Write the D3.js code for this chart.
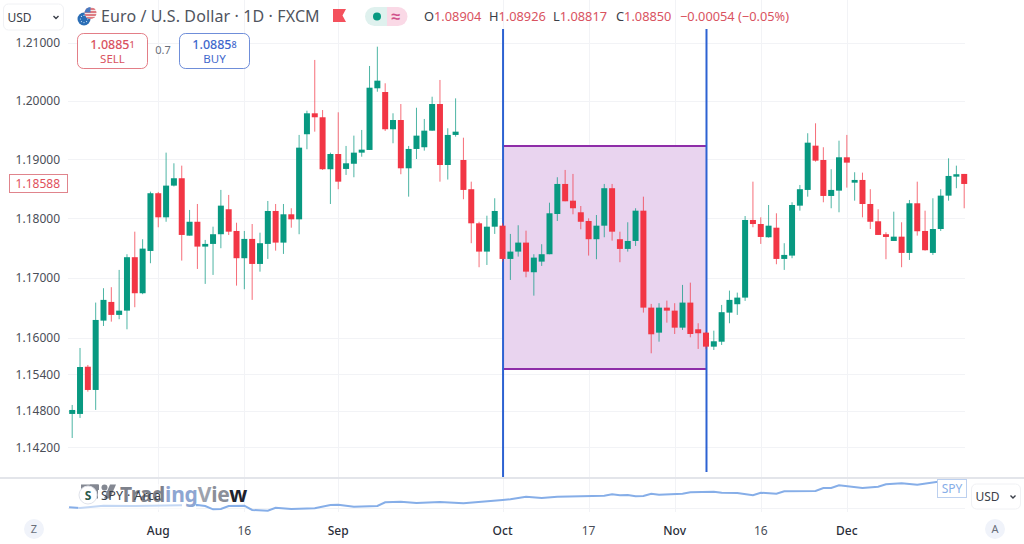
<!DOCTYPE html>
<html><head><meta charset="utf-8">
<script src="https://cdn.jsdelivr.net/npm/d3@7/dist/d3.min.js"></script>
<style>html,body{margin:0;padding:0;background:#fff}svg{display:block;font-family:"Noto Sans",sans-serif}</style>
</head><body><svg id="c" width="1024" height="544"></svg>
<script>
const opens=[1.14746,1.14746,1.15523,1.15140,1.16287,1.16598,1.16382,1.16453,1.17346,1.16743,
1.17451,1.18424,1.18017,1.18553,1.18678,1.17708,1.17942,1.17524,1.17569,1.17732,
1.18153,1.17787,1.17329,1.17653,1.17233,1.17569,1.18124,1.17591,1.18068,1.17983,
1.19427,1.19785,1.19717,1.18831,1.19090,1.18836,1.18924,1.19113,1.19159,1.20214,
1.20150,1.19512,1.19670,1.18847,1.19176,1.19205,1.19488,1.19944,1.18903,1.19415,
1.18988,1.18492,1.17916,1.17440,1.17859,1.17876,1.17317,1.17440,1.17591,1.17094,
1.17272,1.17396,1.18073,1.18581,1.18298,1.18102,1.17955,1.17648,1.17876,1.18509,
1.17648,1.17485,1.17619,1.18129,1.16503,1.16087,1.16503,1.16453,1.16170,1.16587,
1.16143,1.16087,1.15855,1.15937,1.16420,1.16560,1.16670,1.17972,1.17904,1.17681,
1.17842,1.17317,1.17373,1.18214,1.18480,1.19232,1.18988,1.18378,1.18468,1.19034,
1.18603,1.18649,1.18242,1.17950,1.17732,1.17619,1.17691,1.17418,1.18254,1.17787,
1.17418,1.17820,1.18383,1.18705,1.18751];
const closes=[1.14811,1.15518,1.15140,1.16298,1.16632,1.16382,1.16453,1.17346,1.16743,1.17490,
1.18424,1.18017,1.18553,1.18678,1.17720,1.17942,1.17524,1.17569,1.17732,1.18214,
1.17775,1.17329,1.17653,1.17233,1.17581,1.18124,1.17591,1.18068,1.17983,1.19198,
1.19785,1.19717,1.18831,1.19090,1.18620,1.18932,1.19113,1.19164,1.20224,1.20345,
1.19512,1.19670,1.18847,1.19176,1.19403,1.19488,1.19944,1.18903,1.19415,1.19471,
1.18480,1.17916,1.17440,1.17859,1.18124,1.17317,1.17440,1.17591,1.17104,1.17339,
1.17396,1.18085,1.18581,1.18288,1.18170,1.17942,1.17648,1.17876,1.18509,1.17775,
1.17485,1.17619,1.18129,1.16503,1.16060,1.16503,1.16453,1.16170,1.16587,1.16065,
1.16077,1.15855,1.15944,1.16427,1.16632,1.16670,1.17972,1.17904,1.17686,1.17876,
1.17317,1.17384,1.18225,1.18492,1.19283,1.18977,1.18378,1.18480,1.19034,1.18943,
1.18649,1.18242,1.17942,1.17720,1.17686,1.17691,1.17418,1.18254,1.17782,1.17463,
1.17820,1.18383,1.18717,1.18746,1.18581];
const highs=[1.14893,1.15833,1.15552,1.16587,1.16827,1.16844,1.17133,1.17396,1.17775,1.17648,
1.18451,1.18446,1.19113,1.18932,1.18892,1.18141,1.18242,1.17636,1.17859,1.18480,
1.18395,1.17926,1.17787,1.17904,1.17758,1.18293,1.18242,1.18242,1.18170,1.19415,
1.19829,1.20702,1.19841,1.19113,1.19802,1.19227,1.19403,1.19500,1.20598,1.20931,
1.20300,1.19785,1.19944,1.19227,1.19880,1.19688,1.20069,1.20357,1.19529,1.20041,
1.19368,1.18620,1.17942,1.18044,1.18339,1.17916,1.17737,1.17883,1.17792,1.17396,
1.17564,1.18264,1.18695,1.18819,1.18751,1.18208,1.18000,1.18056,1.18581,1.18581,
1.17775,1.17933,1.18170,1.18366,1.16565,1.16577,1.16620,1.16577,1.16882,1.16920,
1.16243,1.16098,1.16120,1.16548,1.16787,1.16753,1.18039,1.18620,1.18017,1.18225,
1.18085,1.17581,1.18271,1.18564,1.19444,1.19614,1.19205,1.18831,1.19317,1.19415,
1.18780,1.18773,1.18492,1.18153,1.17765,1.18112,1.17933,1.18310,1.18620,1.18129,
1.18339,1.18492,1.19017,1.18892,1.18751];
const lows=[1.14352,1.14680,1.15112,1.14812,1.16198,1.16270,1.16310,1.16143,1.16510,1.16727,
1.17245,1.17849,1.17942,1.18539,1.17289,1.17708,1.17149,1.16899,1.17049,1.17497,
1.17720,1.16870,1.16810,1.16632,1.17104,1.17317,1.17456,1.17401,1.17842,1.17732,
1.19171,1.19471,1.18819,1.18242,1.18492,1.18734,1.18695,1.19044,1.19159,1.20155,
1.19483,1.19273,1.18746,1.18366,1.19005,1.19147,1.19488,1.18620,1.18656,1.19386,
1.18322,1.17581,1.17178,1.17216,1.17737,1.17272,1.16965,1.17356,1.17010,1.16703,
1.17200,1.17396,1.17955,1.18288,1.18068,1.17815,1.17373,1.17312,1.17681,1.17624,
1.17262,1.17440,1.17535,1.16420,1.15745,1.15937,1.16253,1.16065,1.16132,1.16010,
1.15817,1.15817,1.15800,1.15883,1.16243,1.16382,1.16615,1.17849,1.17569,1.17675,
1.17228,1.17133,1.17329,1.18129,1.18366,1.18960,1.18271,1.18170,1.18102,1.18519,
1.18298,1.18017,1.17820,1.17720,1.17312,1.17619,1.17178,1.17300,1.17708,1.17456,
1.17384,1.17787,1.18298,1.18509,1.18170];

const priceTicks=[1.21,1.20,1.19,1.18,1.17,1.16,1.154,1.148,1.142];
const timeLabels=["Aug","16","Sep","Oct","17","Nov","16","Dec"];
const timeIndex=[11,22,34,55,66,77,88,99];
const timeStrong=[true,false,true,true,false,true,false,true];

const boxStart=55, boxEnd=81, boxTop=1.19227, boxBottom=1.15486;

const spyIdx=[-0.4,1,4,8,14,16,17,18,19,20,22,23,25,26,28,31,33,34,36,39,40,42,44,47,50,55,56,58,60,62,65,68,69,70,71,72,73,74,75,78,79,82,83,85,87,88,90,91,95,96,97,98,101,103,104,106,108,111,114];
const spyVal=[431.2,430,433.8,433.3,434.5,435,433.3,427.8,428.3,433.3,433.8,426.7,425.5,430.5,428.3,429.5,435,435.5,432.2,433.3,439.5,440.5,438.3,440,437.8,443.3,444.5,448.8,446.7,448.8,449.5,450.5,452.8,451.2,451.7,449.5,450,453.8,452.2,453.8,456.2,457.2,455.5,455,451.2,455.5,453.8,457.8,458.3,463.3,463.3,467.8,463.3,465.5,469.5,471.2,468.8,474.5,474.5];

const ohlcKeys=["O","H","L","C"];
const ohlcVals=["1.08904","1.08926","1.08817","1.08850"];
const ohlcChange="−0.00054 (−0.05%)";

const GREEN="#089981", RED="#f23645", TXT="#4a4e58";
const svg=d3.select("#c");
const x=d3.scaleLinear().domain([0,114]).range([72.2,964.2]);
const y=d3.scaleLog().domain([1.142,1.21]).range([447.3,42.7]);
const ySpy=d3.scaleLinear().domain([430,475]).range([508,481]);
const GRID="#f2f3f6";

// grid
const grid=svg.append("g");
grid.selectAll("line.h").data(priceTicks).join("line").attr("class","h").attr("x1",68).attr("x2",965)
 .attr("y1",d=>Math.round(y(d))+.5).attr("y2",d=>Math.round(y(d))+.5).attr("stroke",GRID);
grid.selectAll("line.v").data(timeIndex).join("line").attr("class","v").attr("y1",0).attr("y2",477)
 .attr("x1",d=>Math.round(x(d))+.5).attr("x2",d=>Math.round(x(d))+.5).attr("stroke",GRID);
grid.selectAll("line.w").data(timeIndex).join("line").attr("class","w").attr("y1",479).attr("y2",512)
 .attr("x1",d=>Math.round(x(d))+.5).attr("x2",d=>Math.round(x(d))+.5).attr("stroke",GRID);
grid.append("line").attr("x1",68).attr("x2",965).attr("y1",508.5).attr("y2",508.5).attr("stroke",GRID);

// box + lines
svg.append("rect").attr("x",x(boxStart)).attr("width",x(boxEnd)-x(boxStart)).attr("y",y(boxTop)).attr("height",y(boxBottom)-y(boxTop)).attr("fill","#e9d4ef");
[boxTop,boxBottom].forEach(v=>svg.append("line").attr("x1",x(boxStart)).attr("x2",x(boxEnd)).attr("y1",y(v)).attr("y2",y(v)).attr("stroke","#8e2da8").attr("stroke-width",2));
svg.append("line").attr("x1",x(boxStart)+.5).attr("x2",x(boxStart)+.5).attr("y1",29).attr("y2",477).attr("stroke","#2d62d2").attr("stroke-width",2);
svg.append("line").attr("x1",x(boxEnd)+.5).attr("x2",x(boxEnd)+.5).attr("y1",29).attr("y2",472).attr("stroke","#2d62d2").attr("stroke-width",2);

// candles
const idx=d3.range(opens.length);
const col=i=>closes[i]>=opens[i]?GREEN:RED;
const g=svg.append("g");
g.selectAll("line.wick").data(idx).join("line").attr("class","wick")
 .attr("x1",i=>x(i)).attr("x2",i=>x(i)).attr("y1",i=>y(highs[i])).attr("y2",i=>y(lows[i]))
 .attr("stroke",col).attr("stroke-opacity",.72).attr("stroke-width",1);
g.selectAll("rect.body").data(idx).join("rect").attr("class","body")
 .attr("x",i=>x(i)-3).attr("width",6)
 .attr("y",i=>y(Math.max(opens[i],closes[i])))
 .attr("height",i=>Math.max(1,Math.abs(y(opens[i])-y(closes[i]))))
 .attr("fill",col);

// price axis labels
svg.selectAll("text.p").data(priceTicks).join("text").attr("class","p").attr("x",60).attr("y",d=>y(d)+4.5)
 .attr("text-anchor","end").attr("font-size",12).attr("fill",TXT).text(d=>d.toFixed(5));
svg.append("rect").attr("x",9.5).attr("y",174.5).attr("width",58).attr("height",18).attr("fill","#fff").attr("stroke","#e0848c");
svg.append("text").attr("x",60).attr("y",188).attr("text-anchor","end").attr("font-size",12).attr("fill","#e0505c").text("1.18588");

// bottom pane
svg.append("line").attr("x1",0).attr("x2",1024).attr("y1",478).attr("y2",478).attr("stroke","#e3e5ea").attr("stroke-width",2);
const line=d3.line().x((d,i)=>x(spyIdx[i])).y(d=>ySpy(d));
svg.append("clipPath").attr("id","spyClip").append("rect").attr("x",60).attr("y",470).attr("width",878).attr("height",60);
svg.append("path").datum(spyVal).attr("d",line).attr("fill","none").attr("stroke","#86aee8").attr("stroke-width",2).attr("clip-path","url(#spyClip)");
svg.append("rect").attr("x",78).attr("y",484).attr("width",104).attr("height",26).attr("fill","#fff").attr("opacity",.5);
svg.append("rect").attr("x",182).attr("y",484).attr("width",14).attr("height",26).attr("fill","#fff");

// watermark + legend
const wm=svg.append("g").attr("fill","#6f7480").attr("opacity",.85);
wm.append("rect").attr("x",81).attr("y",484.5).attr("width",18).attr("height",5.5);
wm.append("rect").attr("x",90).attr("y",484.5).attr("width",8).attr("height",14);
wm.append("circle").attr("cx",104.5).attr("cy",487.5).attr("r",3);
wm.append("path").attr("d","M110,484.5h6l-6,14h-6z");
const wt=svg.append("text").attr("x",120).attr("y",502).attr("font-size",21).attr("font-weight",700).attr("fill","#7d818b").attr("letter-spacing",-.2);
wt.append("tspan").text("Trad");
wt.append("tspan").attr("fill","#8ea6d2").text("ing");
wt.append("tspan").attr("fill","#9da2ad").text("V");
wt.append("tspan").attr("fill","#8b8f99").text("ie");
wt.append("tspan").attr("fill","#1e222d").text("w");
svg.append("circle").attr("cx",88).attr("cy",495).attr("r",9).attr("fill","#fff").attr("stroke","#e0e3eb");
svg.append("text").attr("x",88).attr("y",500).attr("text-anchor","middle").attr("font-size",12).attr("font-weight",700).attr("fill","#2c5a4a").text("S");
svg.append("text").attr("x",101).attr("y",500).attr("font-size",12.5).attr("letter-spacing",.3).attr("fill","#3a3e48").text("SPY · Arca");
svg.append("rect").attr("x",937.5).attr("y",479.5).attr("width",29).attr("height",18).attr("fill","#fff").attr("stroke","#bcd0ef");
svg.append("text").attr("x",952).attr("y",493).attr("text-anchor","middle").attr("font-size",12).attr("fill","#86aee8").text("SPY");

// time axis
svg.selectAll("text.t").data(timeLabels).join("text").attr("class","t")
 .attr("x",(d,i)=>x(timeIndex[i])).attr("y",534.5).attr("text-anchor","middle").attr("font-size",12)
 .attr("font-weight",(d,i)=>timeStrong[i]?500:400).attr("fill",(d,i)=>timeStrong[i]?"#2a2e39":TXT).text(d=>d);
[[34,"Z"],[995,"A"]].forEach(([cx,t])=>{
 svg.append("circle").attr("cx",cx).attr("cy",529).attr("r",10).attr("fill","#f0f3fa");
 svg.append("text").attr("x",cx).attr("y",533).attr("text-anchor","middle").attr("font-size",11).attr("fill","#6a6f7a").text(t);
});

// dropdowns
function dd(px,py,w,h){
 svg.append("rect").attr("x",px).attr("y",py).attr("width",w).attr("height",h).attr("rx",5).attr("fill","#fff").attr("stroke","#f0f1f4");
 svg.append("text").attr("x",px+4).attr("y",py+h/2+4.5).attr("font-size",12).attr("fill","#3a3e48").text("USD");
 svg.append("path").attr("d",`M${px+w-10},${py+h/2-1}l2.5,2.5l2.5,-2.5`).attr("fill","none").attr("stroke","#3a3e48").attr("stroke-width",1.4);
}
dd(3.5,4,60,26); dd(971.5,484,49,25);

// header icons + title
svg.append("circle").attr("cx",84).attr("cy",19).attr("r",6.5).attr("fill","#2a6db5");
d3.range(8).forEach(k=>svg.append("circle").attr("cx",84+3.6*Math.cos(k*Math.PI/4)).attr("cy",19+3.6*Math.sin(k*Math.PI/4)).attr("r",.6).attr("fill","#cfe3f7"));
svg.append("clipPath").attr("id","flag").append("circle").attr("cx",90.5).attr("cy",13).attr("r",6);
const fl=svg.append("g").attr("clip-path","url(#flag)");
fl.append("rect").attr("x",84).attr("y",7).attr("width",13).attr("height",12).attr("fill","#f4e6e6");
[9,12,15,18].forEach(v=>fl.append("rect").attr("x",84).attr("y",v-.8).attr("width",13).attr("height",1.6).attr("fill","#d9636b"));
fl.append("rect").attr("x",84).attr("y",7).attr("width",6.5).attr("height",5.5).attr("fill","#4a7ac0");
svg.append("text").attr("x",101).attr("y",22).attr("font-size",16).attr("letter-spacing",.12).attr("fill","#50545e").text("Euro / U.S. Dollar · 1D · FXCM");
svg.append("path").attr("d","M333,9h13l-3.5,6.5l3.5,6.5h-13z").attr("fill","#f4515d");

// status pill
svg.append("path").attr("d","M387,7h-12.5a9.5,9.5 0 0 0 0,19h12.5z").attr("fill","#dff1ee");
svg.append("path").attr("d","M387,7h11a9.5,9.5 0 0 1 0,19h-11z").attr("fill","#fad9e6");
svg.append("circle").attr("cx",377).attr("cy",16.5).attr("r",4).attr("fill","#089981");
svg.append("text").attr("x",396).attr("y",22).attr("text-anchor","middle").attr("font-size",16).attr("font-weight",700).attr("fill","#d0508a").text("≈");

// OHLC legend
const ohlcX=d3.scaleOrdinal().domain(ohlcKeys).range([424,489,553,616]);
ohlcKeys.forEach((k,i)=>{
 const t=svg.append("text").attr("x",ohlcX(k)).attr("y",21).attr("font-size",12.8).attr("fill","#d9535f");
 t.append("tspan").attr("fill","#3a3e48").text(k);
 t.append("tspan").text(ohlcVals[i]);
});
svg.append("text").attr("x",680).attr("y",21).attr("font-size",12.8).attr("fill","#d9535f").text(ohlcChange);

// sell / buy buttons
function btn(bx,w,colr,main,small,label){
 svg.append("rect").attr("x",bx+.5).attr("y",33.5).attr("width",w).attr("height",35).attr("rx",6).attr("fill","#fff").attr("stroke",colr).attr("stroke-opacity",.75);
 const t=svg.append("text").attr("x",bx+w/2+.5).attr("y",49).attr("text-anchor","middle").attr("font-size",12.5).attr("font-weight",500).attr("fill",colr);
 t.append("tspan").text(main); t.append("tspan").attr("font-size",9).attr("dy",-1).text(small);
 svg.append("text").attr("x",bx+w/2+.5).attr("y",63).attr("text-anchor","middle").attr("font-size",11.5).attr("fill",colr).text(label);
}
btn(77,70,"#d9535f","1.0885","1","SELL");
btn(179,70,"#3f68cc","1.0885","8","BUY");
svg.append("text").attr("x",163).attr("y",54).attr("text-anchor","middle").attr("font-size",11).attr("fill","#6a6f7a").text("0.7");
</script></body></html>
